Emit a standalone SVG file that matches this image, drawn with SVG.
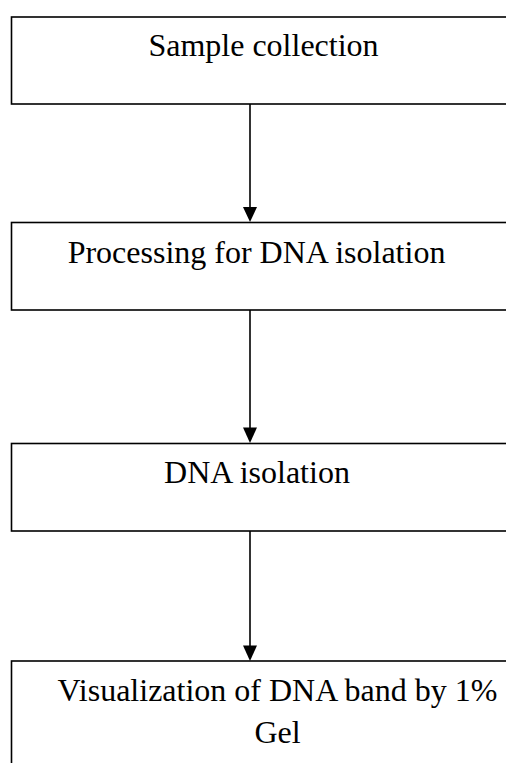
<svg xmlns="http://www.w3.org/2000/svg" width="506" height="763" viewBox="0 0 506 763">
<style>
.box{fill:#fff;stroke:#000;stroke-width:1.6}
.lbl{font-family:"Liberation Serif","Times New Roman",serif;font-size:32px;fill:#000;text-anchor:middle}
.con{stroke:#000;stroke-width:1.6;fill:none}
.head{fill:#000;stroke:none}
</style>
<rect width="506" height="763" fill="#fff"/>
<g id="n1">
<rect class="box" x="11.5" y="17" width="510" height="87"/>
<text class="lbl" x="263.5" y="56">Sample collection</text>
</g>
<g id="n2">
<rect class="box" x="11.5" y="222.5" width="510" height="87.5"/>
<text class="lbl" x="256.5" y="262.5">Processing for DNA isolation</text>
</g>
<g id="n3">
<rect class="box" x="11.5" y="443.5" width="510" height="87.5"/>
<text class="lbl" x="257" y="482.5">DNA isolation</text>
</g>
<g id="n4">
<rect class="box" x="11.5" y="661" width="510" height="120"/>
<text class="lbl" x="277.5" y="700.5">Visualization of DNA band by 1%</text>
<text class="lbl" x="277.5" y="743">Gel</text>
</g>
<g id="connectors">
<line class="con" x1="250" y1="104" x2="250" y2="208"/>
<polygon class="head" points="243,207 257,207 250,222"/>
<line class="con" x1="250" y1="310" x2="250" y2="428"/>
<polygon class="head" points="243,427.5 257,427.5 250,443"/>
<line class="con" x1="250" y1="531" x2="250" y2="646"/>
<polygon class="head" points="243,645.5 257,645.5 250,661"/>
</g>
</svg>
